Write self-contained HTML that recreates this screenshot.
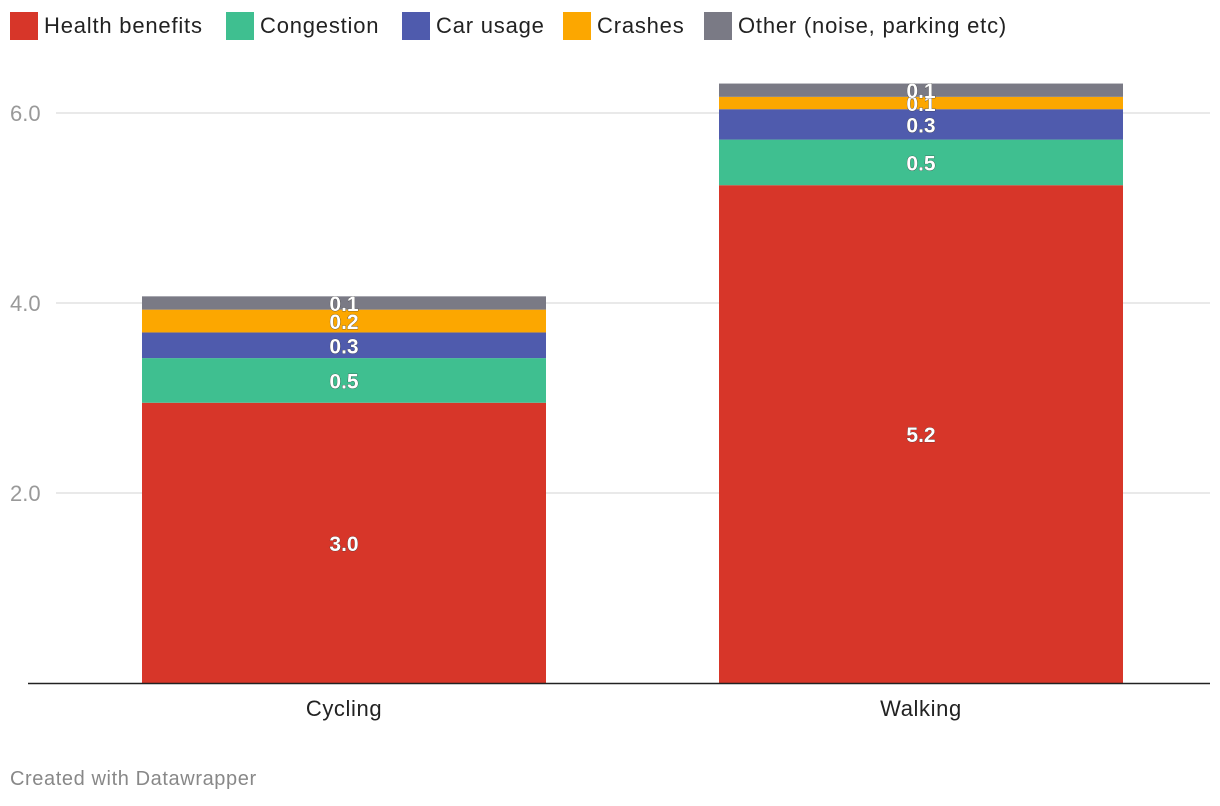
<!DOCTYPE html>
<html><head><meta charset="utf-8"><style>
body{margin:0;background:#fff;font-family:"Liberation Sans",Arial,sans-serif;}
#wrap{position:relative;width:1220px;height:806px;overflow:hidden;}
.leg{position:absolute;top:12px;display:flex;align-items:center;font-size:22px;color:#222;letter-spacing:0.8px;}
.sw{width:28px;height:28px;margin-right:6px;}
</style></head><body><div id="wrap">
<div class="leg" style="left:10px"><div class="sw" style="background:#d73629"></div>Health benefits</div>
<div class="leg" style="left:226px"><div class="sw" style="background:#3fbf90"></div>Congestion</div>
<div class="leg" style="left:402px"><div class="sw" style="background:#4f5bad"></div>Car usage</div>
<div class="leg" style="left:563px"><div class="sw" style="background:#fca700"></div>Crashes</div>
<div class="leg" style="left:704px"><div class="sw" style="background:#7a7a85"></div>Other (noise, parking etc)</div>
<svg id="svg" width="1220" height="806" style="position:absolute;left:0;top:0"></svg>
<div style="position:absolute;left:10px;top:768px;font-size:20px;color:#888;letter-spacing:0.6px">Created with Datawrapper</div>
</div>
<script>
const categories=["Cycling","Walking"];
const health=[2.95,5.24];
const congestion=[0.47,0.48];
const carUsage=[0.27,0.32];
const crashes=[0.24,0.13];
const other=[0.14,0.14];
const ticks=[2,4,6];
const series=[health,congestion,carUsage,crashes,other];
const colors=["#d73629","#3fbf90","#4f5bad","#fca700","#7a7a85"];
const names=["health","congestion","car-usage","crashes","other"];
const NS="http://www.w3.org/2000/svg",svg=document.getElementById('svg');
const y=v=>683-v*95;
const xc=i=>344+i*577, bw=404;
function mk(t,a){const e=document.createElementNS(NS,t);for(const k in a)e.setAttribute(k,a[k]);svg.appendChild(e);return e;}
ticks.forEach(t=>{
 const l=mk('line',{x1:56,x2:1210,y1:y(t),y2:y(t),stroke:'#e2e2e2','stroke-width':1.5});
 
 
 const tx=mk('text',{x:10,y:y(t)+8,'font-size':22,fill:'#999','font-family':'Liberation Sans'});tx.textContent=t.toFixed(1);
 
 
});
categories.forEach((c,i)=>{
 let base=0;
 series.forEach((s,j)=>{
  const v=s[i];
  const r=mk('rect',{x:xc(i)-bw/2,y:y(base+v),width:bw,height:v*95,fill:colors[j]});
  
  
  const t=mk('text',{x:xc(i),y:y(base+v/2)+8,'text-anchor':'middle','font-size':21,'font-weight':'bold',fill:'#fff',stroke:'#333','stroke-width':0.6,'paint-order':'stroke','font-family':'Liberation Sans'});
  t.textContent=v.toFixed(1);
  
  
  base+=v;
 });
 const lt=mk('text',{x:xc(i),y:716,'text-anchor':'middle','font-size':22,fill:'#222','font-family':'Liberation Sans','letter-spacing':0.6});lt.textContent=c;
 
 
});
const ax=mk('line',{x1:28,x2:1210,y1:683.5,y2:683.5,stroke:'#222','stroke-width':1.5});


</script></body></html>
